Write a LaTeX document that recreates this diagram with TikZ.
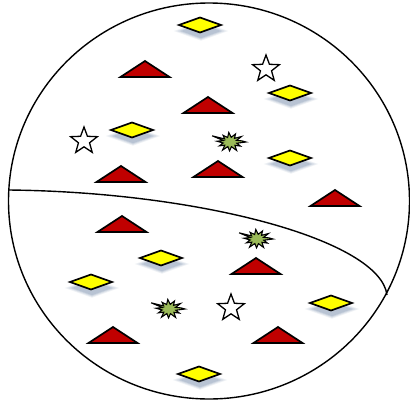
\documentclass[tikz,border=0pt]{standalone}
\usetikzlibrary{shapes.geometric}
\definecolor{tricol}{HTML}{C00000}
\definecolor{diacol}{HTML}{FFFF00}
\definecolor{burcol}{HTML}{9BBB59}
\definecolor{shdcol}{HTML}{6F86A6}
\tikzset{
  outline/.style={line width=1.7pt, draw=black, line join=miter},
  trishape/.style={outline, fill=tricol},
  diashape/.style={outline, fill=diacol},
  burshape/.style={line width=1.1pt, draw=black, fill=burcol, line join=miter},
  starshape/.style={star, star points=5, star point ratio=2.4, minimum size=28pt,
    inner sep=0pt, draw=black, line width=1.3pt, fill=white},
  pics/tri/.style={code={
    \draw[trishape] (-24.5,0) -- (0,-16) -- (24.5,0) -- cycle;}},
  pics/dia/.style={code={
    \foreach \s/\o in {1.30/0.10,1.18/0.14,1.06/0.18,0.95/0.2}{
      \fill[shdcol, opacity=\o] (1-21*\s,6) -- (1,6-7.5*\s) -- (1+21*\s,6) -- (1,6+7.5*\s) -- cycle;}
    \draw[diashape] (-21,0) -- (0,-7.5) -- (21,0) -- (0,7.5) -- cycle;}},
  pics/burst/.style={code={
    \begin{scope}[yscale=0.68]
    \draw[burshape] (0:16) -- (15:7) -- (30:12) -- (45:7) -- (62:14) -- (78:7)
      -- (92:13) -- (108:7) -- (122:14) -- (138:7) -- (152:12) -- (168:7)
      -- (185:13) -- (198:7) -- (207:20) -- (220:7) -- (235:12) -- (250:7)
      -- (265:14) -- (280:7) -- (295:13) -- (310:7) -- (325:14) -- (340:7)
      -- (352:12) -- cycle;
    \end{scope}}},
}
\begin{document}
\begin{tikzpicture}[x=1pt, y=-1pt]
\useasboundingbox (0,0) rectangle (410,402);
% outer circle and dividing curve
\draw[line width=1.4pt] (209,201) ellipse [x radius=200.5, y radius=198];
\coordinate (cl) at (8.5,190);
\coordinate (cr) at (387,295);
\draw[line width=1.4pt] (cl) .. controls (200,192) and (380,240) .. (cr);
% triangles
\foreach \x/\y in {145/77, 208/113, 121/182, 218/177, 335/206, 122/232, 256/274, 113/343, 278/343}
  \pic at (\x,\y) {tri};
% diamonds
\foreach \x/\y in {200/25, 290/93, 132/130, 290/158, 161/258, 91/282, 331/303, 199/374}
  \pic at (\x,\y) {dia};
% bursts
\foreach \x/\y in {230/142, 257/239, 169/309}
  \pic at (\x,\y) {burst};
% stars
\node[starshape] (s1) at (84,141) {};
\node[starshape] (s2) at (266,69) {};
\node[starshape] (s3) at (231,308) {};
\end{tikzpicture}
\end{document}
